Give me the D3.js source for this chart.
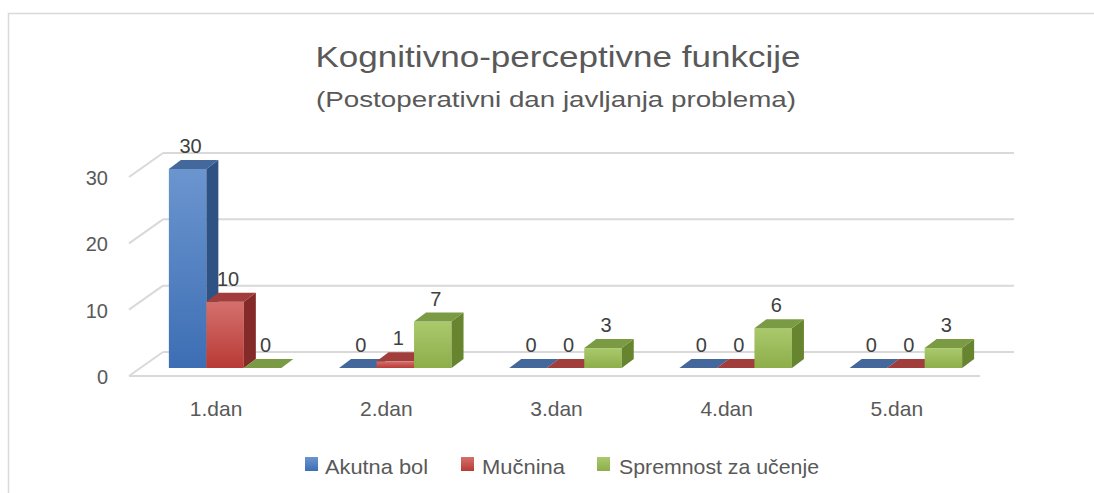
<!DOCTYPE html>
<html>
<head>
<meta charset="utf-8">
<script src="https://cdn.jsdelivr.net/npm/d3@7"></script>
<style>
  body { margin: 0; background: #fff; }
  svg { display: block; font-family: "Liberation Sans", Arial, sans-serif; }
</style>
</head>
<body>
<svg id="chart" width="1094" height="493"></svg>
<script>
// chart data
const categories = ['1.dan', '2.dan', '3.dan', '4.dan', '5.dan'];
const seriesNames = ['Akutna bol', 'Mučnina', 'Spremnost za učenje'];
const akutnaBol = [30, 0, 0, 0, 0];
const mucnina = [10, 1, 0, 0, 0];
const spremnost = [0, 7, 3, 6, 3];
const yTicks = [0, 10, 20, 30];

const seriesValues = [akutnaBol, mucnina, spremnost];

// colours per series: front gradient top/bottom, side, top face
const palette = [
    { light: '#6b95cf', dark: '#3d6eb4', side: '#2f5284', top: '#44689c' },
    { light: '#d4706c', dark: '#b93a36', side: '#842b29', top: '#a13e3b' },
    { light: '#a9c96c', dark: '#8eae4b', side: '#67842f', top: '#7a9a44' }
];

const svg = d3.select('#chart');

// 3D geometry
const front = { left: 129, right: 980, floor: 376 };
const wallDepth = { dx: 34, dy: -24 };
const barOffset = { dx: 11, dy: -8 };   // where bar fronts sit inside the floor
const barDepth = { dx: 12, dy: -9 };

const x = d3.scaleBand()
    .domain(categories)
    .range([front.left, front.right]);

const xInner = d3.scaleBand()
    .domain(seriesNames)
    .range([0, x.bandwidth()])
    .paddingOuter(0.77)
    .paddingInner(0);

const y = d3.scaleLinear()
    .domain([0, 30])
    .range([front.floor, front.floor - 199]);

// outer border
svg.append('rect')
    .attr('x', 8.5).attr('y', 13.5)
    .attr('width', 1200).attr('height', 600)
    .attr('fill', 'none')
    .attr('stroke', '#d9d9d9')
    .attr('stroke-width', 1.5);

// defs for gradients
const defs = svg.append('defs');
palette.forEach((p, i) => {
    const g = defs.append('linearGradient')
        .attr('id', `grad-${i}`)
        .attr('x1', 0).attr('y1', 0).attr('x2', 0).attr('y2', 1);
    g.append('stop').attr('offset', '0%').attr('stop-color', p.light);
    g.append('stop').attr('offset', '100%').attr('stop-color', p.dark);
});

// title
svg.append('text')
    .attr('x', 558).attr('y', 67)
    .attr('text-anchor', 'middle')
    .attr('fill', '#595959')
    .style('font-size', '29px')
    .attr('textLength', 485)
    .attr('lengthAdjust', 'spacingAndGlyphs')
    .text('Kognitivno-perceptivne funkcije');

svg.append('text')
    .attr('x', 556).attr('y', 107)
    .attr('text-anchor', 'middle')
    .attr('fill', '#595959')
    .style('font-size', '22px')
    .attr('textLength', 480)
    .attr('lengthAdjust', 'spacingAndGlyphs')
    .text('(Postoperativni dan javljanja problema)');

// gridlines: back wall + left side wall
const grid = svg.append('g')
    .attr('stroke', '#d9d9d9')
    .attr('stroke-width', 2)
    .attr('fill', 'none');

yTicks.forEach(t => {
    const fy = y(t);
    grid.append('line')
        .attr('x1', front.left + wallDepth.dx).attr('y1', fy + wallDepth.dy)
        .attr('x2', front.right + wallDepth.dx).attr('y2', fy + wallDepth.dy);
    grid.append('line')
        .attr('x1', front.left).attr('y1', fy)
        .attr('x2', front.left + wallDepth.dx).attr('y2', fy + wallDepth.dy);
});
// front edge of the floor
grid.append('line')
    .attr('x1', front.left).attr('y1', front.floor)
    .attr('x2', front.right).attr('y2', front.floor);

// y tick labels
svg.append('g')
    .selectAll('text')
    .data(yTicks)
    .join('text')
    .attr('x', 108)
    .attr('y', d => y(d) + 8)
    .attr('text-anchor', 'end')
    .attr('fill', '#595959')
    .style('font-size', '20px')
    .text(d => d);

// category labels
svg.append('g')
    .selectAll('text')
    .data(categories)
    .join('text')
    .attr('x', d => x(d) + x.bandwidth() / 2 + 2)
    .attr('y', 416)
    .attr('text-anchor', 'middle')
    .attr('fill', '#595959')
    .style('font-size', '21px')
    .text(d => d);

// bars
const bars = [];
categories.forEach((c, ci) => {
    seriesNames.forEach((s, si) => {
        bars.push({ cat: c, series: s, si: si, value: seriesValues[si][ci] });
    });
});

const barG = svg.append('g');

bars.forEach(d => {
    const x0 = x(d.cat) + xInner(d.series) + barOffset.dx;
    const x1 = x0 + xInner.bandwidth();
    const yb = y(0) + barOffset.dy;
    const yt = y(d.value) + barOffset.dy;
    const p = palette[d.si];
    const g = barG.append('g');

    // front face
    if (d.value > 0) {
        g.append('rect')
            .attr('x', x0).attr('y', yt)
            .attr('width', x1 - x0).attr('height', yb - yt)
            .attr('fill', `url(#grad-${d.si})`);
        // right side
        g.append('path')
            .attr('d', `M${x1},${yt}L${x1 + barDepth.dx},${yt + barDepth.dy}L${x1 + barDepth.dx},${yb + barDepth.dy}L${x1},${yb}Z`)
            .attr('fill', p.side);
    }
    // top face
    g.append('path')
        .attr('d', `M${x0},${yt}L${x1},${yt}L${x1 + barDepth.dx},${yt + barDepth.dy}L${x0 + barDepth.dx},${yt + barDepth.dy}Z`)
        .attr('fill', p.top);

    // value label
    g.append('text')
        .attr('x', (x0 + x1) / 2 + 3)
        .attr('y', yt + barDepth.dy - 7)
        .attr('text-anchor', 'middle')
        .attr('fill', '#404040')
        .style('font-size', '20px')
        .text(d.value);
});

// legend
const legendItems = [
    { name: seriesNames[0], x: 305, tx: 325, len: 103 },
    { name: seriesNames[1], x: 461, tx: 482, len: 83 },
    { name: seriesNames[2], x: 597, tx: 619, len: 200 }
];
const legend = svg.append('g');
legendItems.forEach((it, i) => {
    legend.append('rect')
        .attr('x', it.x).attr('y', 457)
        .attr('width', 13).attr('height', 14)
        .attr('fill', `url(#grad-${i})`);
    legend.append('text')
        .attr('x', it.tx).attr('y', 474)
        .attr('fill', '#595959')
        .style('font-size', '21px')
        .attr('textLength', it.len)
        .attr('lengthAdjust', 'spacingAndGlyphs')
        .text(it.name);
});
</script>
</body>
</html>
